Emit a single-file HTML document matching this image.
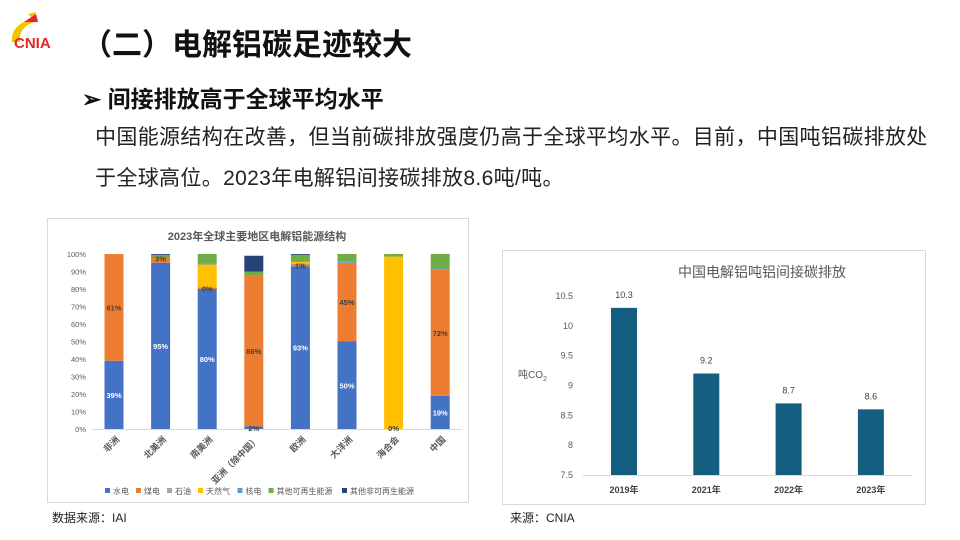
<!DOCTYPE html>
<html><head><meta charset="utf-8">
<style>
body{margin:0;width:960px;height:540px;background:#fff;position:relative;overflow:hidden;font-family:"Liberation Sans","Noto Sans CJK SC",sans-serif;}
.abs{position:absolute;}
</style></head><body>
<div class="abs" style="left:6px;top:12px;width:56px;height:40px;">
<svg width="56" height="40"><path d="M6 30 Q4 14 26 6 L22 2 L30 0 L28 10 Q12 16 14 30Z" fill="#f5c400"/><path d="M18 10 L30 2 L32 10Z" fill="#e3262b"/><text x="8" y="36" font-family="Liberation Sans" font-weight="bold" font-size="15" fill="#e3262b">CNIA</text></svg>
</div>
<div class="abs" style="left:82px;top:20px;font-size:30px;font-weight:bold;color:#111;">（二）电解铝碳足迹较大</div>
<div class="abs" style="left:82px;top:80px;font-size:23px;font-weight:bold;color:#111;">➢ 间接排放高于全球平均水平</div>
<div class="abs" style="left:95px;top:117px;width:860px;font-size:21px;letter-spacing:0.35px;line-height:41px;color:#222;white-space:nowrap;">中国能源结构在改善，但当前碳排放强度仍高于全球平均水平。目前，中国吨铝碳排放处<br>于全球高位。2023年电解铝间接碳排放8.6吨/吨。</div>

<svg class="abs" style="left:0;top:0" width="960" height="540" id="svg">
<rect x="47.5" y="218.5" width="421" height="284" fill="#fff" stroke="#d9d9d9"/>
<text x="257" y="240" font-size="11" font-weight="bold" fill="#595959" text-anchor="middle">2023年全球主要地区电解铝能源结构</text>
<g id="lc"></g>
<rect x="502.5" y="250.5" width="423" height="254" fill="#fff" stroke="#d9d9d9"/>
<text x="762" y="277" font-size="14" fill="#595959" text-anchor="middle">中国电解铝吨铝间接碳排放</text>
<text x="518" y="378" font-size="10" fill="#595959">吨CO<tspan font-size="7" dy="3">2</tspan></text>
<g id="rc"></g>
<text x="52" y="522" font-size="12" fill="#222">数据来源：IAI</text>
<text x="510" y="522" font-size="12" fill="#222">来源：CNIA</text>
</svg>
<script>
const regions=["非洲","北美洲","南美洲","亚洲（除中国）","欧洲","大洋洲","海合会","中国"];
const seriesNames=["水电","煤电","石油","天然气","核电","其他可再生能源","其他非可再生能源"];
const hydro=[39,95,80,1.5,93,50,0,19];
const coal=[61,3,1,86,1,45,0,72];
const oil=[0,0,0,0,0.5,0,0,0];
const gas=[0,0,13,0,1,0,98.5,0];
const nuclear=[0,0,0.5,0,0.5,0.5,0,0.7];
const otherRenew=[0,1.5,5.5,2.5,3.5,4.5,1.5,8.3];
const otherNonRenew=[0,0.5,0,9,0.5,0,0,0];
const labelHydro=["39%","95%","80%","2%","93%","50%","0%","19%"];
const labelCoal=["61%","3%","0%","86%","1%","45%","","72%"];
const yTicksL=[0,10,20,30,40,50,60,70,80,90,100];
const colors=["#4472c4","#ed7d31","#a5a5a5","#ffc000","#5b9bd5","#70ad47","#264478"];
const NS="http://www.w3.org/2000/svg";
function mk(p,t,a){const e=document.createElementNS(NS,t);for(const k in a)e.setAttribute(k,a[k]);p.appendChild(e);return e;}
const lc=document.getElementById('lc');
const yL=v=>429-v*1.75, xL=i=>114+i*46.6;
yTicksL.forEach(t=>{const e=mk(lc,'text',{x:86,y:yL(t)+3,'font-size':7.5,fill:'#595959','text-anchor':'end'});e.textContent=t+'%';

});
mk(lc,'line',{x1:92,x2:462,y1:429.5,y2:429.5,stroke:'#d9d9d9'});
const all=[hydro,coal,oil,gas,nuclear,otherRenew,otherNonRenew];
regions.forEach((r,i)=>{let acc=0;
all.forEach((s,k)=>{const v=s[i];if(v>0){const b=mk(lc,'rect',{x:xL(i)-9.5,y:yL(acc+v),width:19,height:v*1.75,fill:colors[k]});

}acc+=v;});
const h=hydro[i];
const t1=mk(lc,'text',{x:xL(i),y:h>10?yL(h/2)+3:yL(0)+2,'font-size':7.5,'font-weight':'bold',fill:h>10?'#fff':'#404040','text-anchor':'middle'});t1.textContent=labelHydro[i];


if(labelCoal[i]){const t2=mk(lc,'text',{x:xL(i),y:coal[i]>5?yL(h+coal[i]/2)+3:yL(h+coal[i])+4,'font-size':7.5,'font-weight':'bold',fill:'#404040','text-anchor':'middle'});t2.textContent=labelCoal[i];

}
const c=mk(lc,'text',{'font-size':9,'font-weight':'bold',fill:'#595959','text-anchor':'end',transform:`translate(${xL(i)+6},${440}) rotate(-45)`});c.textContent=r;

});
let lx=105;
seriesNames.forEach((n,k)=>{mk(lc,'rect',{x:lx,y:488,width:5,height:5,fill:colors[k]});const t=mk(lc,'text',{x:lx+8,y:494,'font-size':8,fill:'#595959'});t.textContent=n;


lx+=14+n.length*8.5;});

const years=["2019年","2021年","2022年","2023年"];
const emissions=[10.3,9.2,8.7,8.6];
const yTicksR=[7.5,8,8.5,9,9.5,10,10.5];
const rc=document.getElementById('rc');
const yR=v=>475-(v-7.5)*59.7, xR=i=>624+i*82.3;
yTicksR.forEach(t=>{const e=mk(rc,'text',{x:573,y:yR(t)+3,'font-size':9,fill:'#595959','text-anchor':'end'});e.textContent=t;

});
mk(rc,'line',{x1:583,x2:912,y1:475.5,y2:475.5,stroke:'#d9d9d9'});
years.forEach((y,i)=>{const b=mk(rc,'rect',{x:xR(i)-13,y:yR(emissions[i]),width:26,height:475-yR(emissions[i]),fill:'#165e80'});


const v=mk(rc,'text',{x:xR(i),y:yR(emissions[i])-10,'font-size':9,fill:'#404040','text-anchor':'middle'});v.textContent=emissions[i];


const c=mk(rc,'text',{x:xR(i),y:493,'font-size':9,'font-weight':'bold',fill:'#404040','text-anchor':'middle'});c.textContent=y;

});
</script>
</body></html>
